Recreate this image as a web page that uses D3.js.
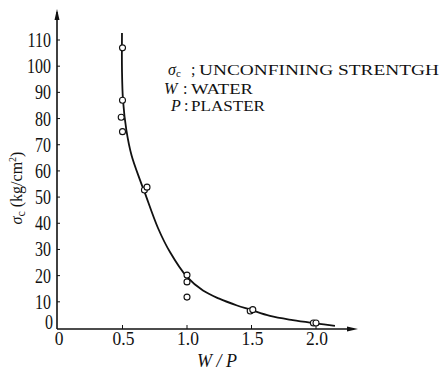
<!DOCTYPE html>
<html>
<head>
<meta charset="utf-8">
<script src="https://cdn.jsdelivr.net/npm/d3@7/dist/d3.min.js"></script>
<style>
  body { margin: 0; background: #fff; }
</style>
</head>
<body>
<div id="chart"></div>
<script>
// measured points (W/P, sigma_c)
var ratio    = [0.5, 0.5, 0.49, 0.5, 0.67, 0.69, 1.0, 1.0, 1.0, 1.49, 1.51, 1.98, 2.0];
var strength = [107, 87, 80.5, 75, 52.7, 53.8, 20.2, 17.6, 11.8, 6.5, 7.0, 1.9, 1.9];

// fitted curve
var curveX = [0.496, 0.496, 0.504, 0.53, 0.57, 0.636, 0.674, 0.775, 0.868, 1.0, 1.124, 1.25, 1.388, 1.49, 1.643, 1.82, 2.008, 2.147];
var curveY = [112.7, 98.5, 87, 75.6, 66, 56.5, 51.5, 38.2, 29, 19.5, 14.3, 11.2, 8.6, 7.0, 4.6, 3.0, 1.7, 0.8];

var xTicks = [0, 0.5, 1.0, 1.5, 2.0];
var yTicks = [0, 10, 20, 30, 40, 50, 60, 70, 80, 90, 100, 110];

var legendSym = ["σ", "W", "P"];
var legendSub = ["c", "", ""];
var legendSep = [";", ":", ":"];
var legendTxt = ["UNCONFINING STRENTGH", "WATER", "PLASTER"];

var w = 439, h = 370;

var svg = d3.select("#chart")
            .append("svg")
            .attr("width", w)
            .attr("height", h)
            .attr("font-family", "Liberation Serif")
            .attr("fill", "#111");

var x = d3.scaleLinear().domain([0, 2]).range([58, 316]);
var y = d3.scaleLinear().domain([0, 110]).range([328, 40]);

var x0 = x(0) - 1, y0 = y(0) + 1;

// axes lines with arrows
svg.append("line")
   .attr("x1", x0).attr("y1", y0)
   .attr("x2", x0).attr("y2", 12)
   .attr("stroke", "#111").attr("stroke-width", 1.6);
svg.append("path")
   .attr("d", "M" + x0 + ",9 L" + (x0 - 2.5) + ",20 L" + (x0 + 2.5) + ",20 Z")
   .attr("fill", "#111");

svg.append("line")
   .attr("x1", x0).attr("y1", y0)
   .attr("x2", 354).attr("y2", y0)
   .attr("stroke", "#111").attr("stroke-width", 1.6);
svg.append("path")
   .attr("d", "M358," + y0 + " L347," + (y0 - 2.5) + " L347," + (y0 + 2.5) + " Z")
   .attr("fill", "#111");

// x ticks
svg.selectAll(".xt")
   .data(xTicks.slice(1))
   .enter()
   .append("line")
   .attr("x1", function(d) { return x(d); })
   .attr("x2", function(d) { return x(d); })
   .attr("y1", y0)
   .attr("y2", y0 - 4)
   .attr("stroke", "#111");

svg.selectAll(".xl")
   .data(xTicks)
   .enter()
   .append("text")
   .attr("transform", function(d) { return "translate(" + (x(d) + 1) + ",345) scale(0.92,1)"; })
   .attr("text-anchor", "middle")
   .attr("font-size", "19px")
   .text(function(d) { return d === 0 ? "0" : d.toFixed(1); });

// y ticks
svg.selectAll(".yt")
   .data(yTicks.slice(1))
   .enter()
   .append("line")
   .attr("x1", x0)
   .attr("x2", x0 + 3)
   .attr("y1", function(d) { return y(d); })
   .attr("y2", function(d) { return y(d); })
   .attr("stroke", "#111");

svg.selectAll(".yl")
   .data(yTicks)
   .enter()
   .append("text")
   .attr("transform", function(d) {
     var yy = d === 0 ? y(d) - 6 : y(d);
     return "translate(" + (d === 0 ? 53 : 51) + "," + yy + ") scale(0.8,1)";
   })
   .attr("dy", "0.35em")
   .attr("text-anchor", "end")
   .attr("font-size", "20px")
   .text(function(d) { return d; });

// axis titles
svg.append("text")
   .attr("x", 217)
   .attr("y", 367)
   .attr("text-anchor", "middle")
   .attr("font-size", "18px")
   .attr("font-style", "italic")
   .text("W / P");

var yt = svg.append("text")
   .attr("transform", "translate(22,188) rotate(-90)")
   .attr("text-anchor", "middle")
   .attr("font-size", "16px");
yt.append("tspan").attr("font-style", "italic").text("σ");
yt.append("tspan").attr("font-size", "12px").attr("dy", 3).text("c");
yt.append("tspan").attr("dy", -3).text("  (kg/cm");
yt.append("tspan").attr("font-size", "10px").attr("dy", -6).text("2");
yt.append("tspan").attr("dy", 6).text(")");

// fitted curve
var pts = d3.zip(curveX, curveY);
svg.append("path")
   .datum(pts)
   .attr("fill", "none")
   .attr("stroke", "#111")
   .attr("stroke-width", 1.8)
   .attr("d", d3.line()
     .x(function(d) { return x(d[0]); })
     .y(function(d) { return y(d[1]); })
     .curve(d3.curveCatmullRom));

// data circles
svg.selectAll("circle")
   .data(d3.zip(ratio, strength))
   .enter()
   .append("circle")
   .attr("cx", function(d) { return x(d[0]); })
   .attr("cy", function(d) { return y(d[1]); })
   .attr("r", 3)
   .attr("fill", "#fff")
   .attr("stroke", "#111")
   .attr("stroke-width", 1.1);

// legend
var lgBase = [75, 94, 111];
var symX = [168, 164, 171];
var sepX = [191, 183, 184];
var txtX = [199, 191, 191];
var txtLen = [240, 62, 74];

legendSym.forEach(function(s, i) {
  var t = svg.append("text")
     .attr("x", symX[i]).attr("y", lgBase[i])
     .attr("font-size", "16px");
  t.append("tspan").attr("font-style", "italic").text(s);
  if (legendSub[i]) t.append("tspan").attr("font-size", "11px").attr("dy", 2).text(legendSub[i]);

  svg.append("text")
     .attr("x", sepX[i]).attr("y", lgBase[i])
     .attr("font-size", "16px")
     .text(legendSep[i]);

  svg.append("text")
     .attr("x", txtX[i]).attr("y", lgBase[i])
     .attr("font-size", "15.5px")
     .attr("textLength", txtLen[i])
     .attr("lengthAdjust", "spacingAndGlyphs")
     .text(legendTxt[i]);
});
</script>
</body>
</html>
